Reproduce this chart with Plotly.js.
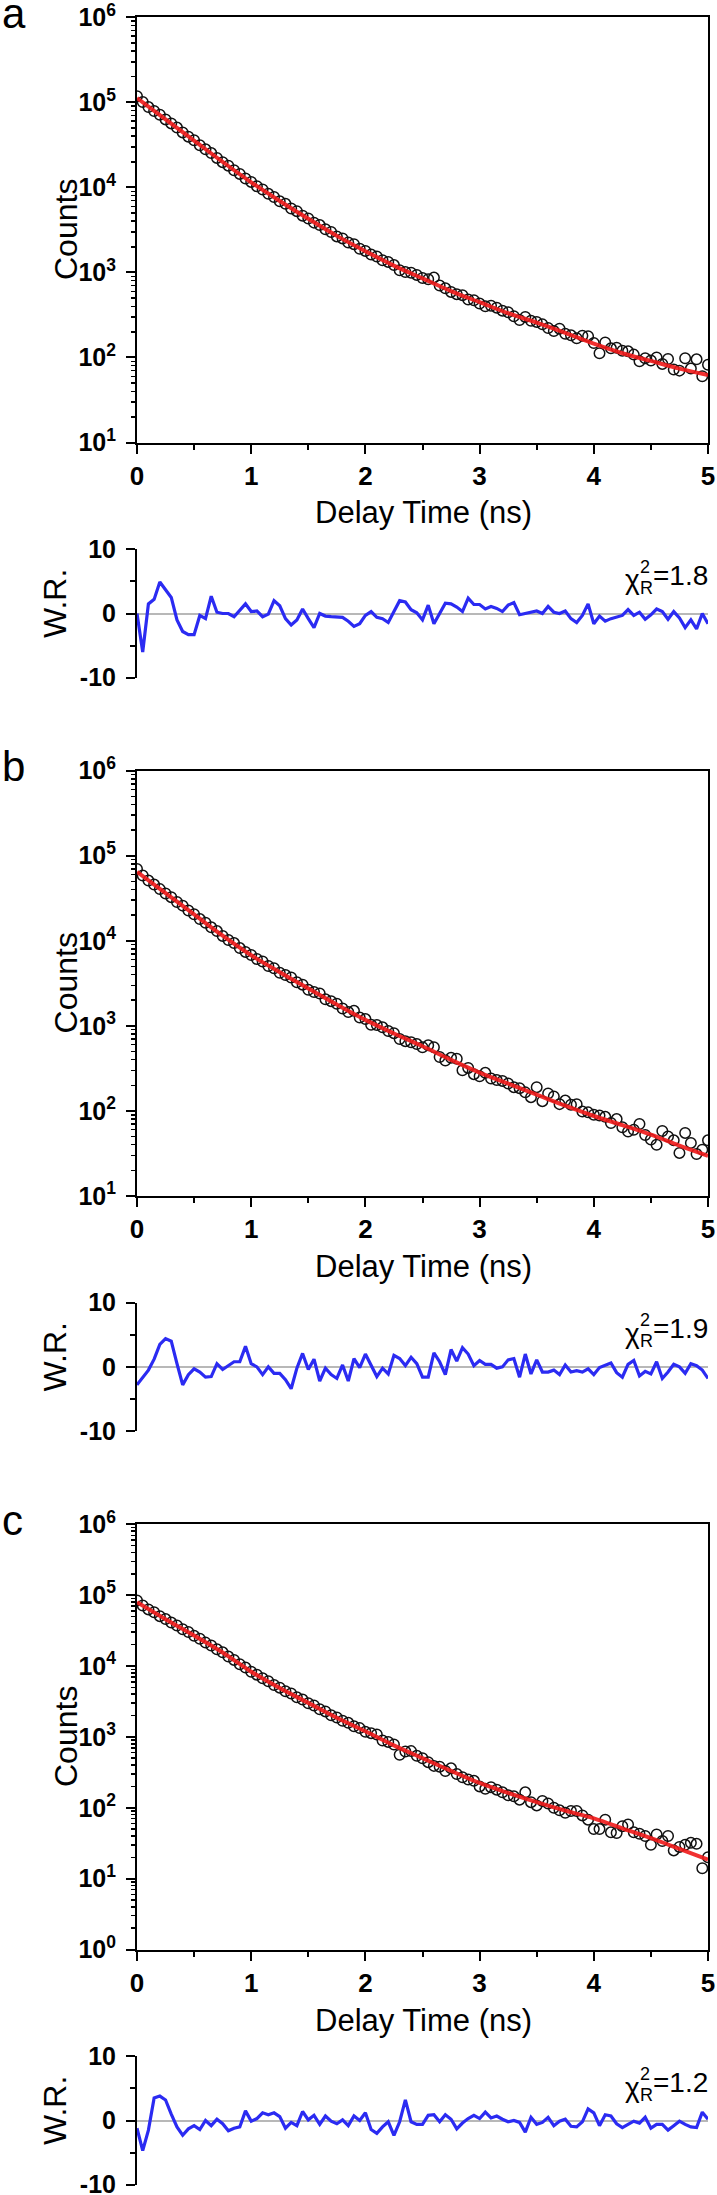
<!DOCTYPE html>
<html><head><meta charset="utf-8">
<script src="https://cdn.plot.ly/plotly-3.0.1.min.js"></script>
<style>html,body{margin:0;padding:0;background:#fff}#chart{width:717px;height:2195px}</style>
</head><body><div id="chart"></div>
<script>
// ---- data ----
const timeNs = [0,0.05,0.1,0.15,0.2,0.25,0.3,0.35,0.4,0.45,0.5,0.55,0.6,0.65,0.7,0.75,0.8,0.85,0.9,0.95,1,1.05,1.1,1.15,1.2,1.25,1.3,1.35,1.4,1.45,1.5,1.55,1.6,1.65,1.7,1.75,1.8,1.85,1.9,1.95,2,2.05,2.1,2.15,2.2,2.25,2.3,2.35,2.4,2.45,2.5,2.55,2.6,2.65,2.7,2.75,2.8,2.85,2.9,2.95,3,3.05,3.1,3.15,3.2,3.25,3.3,3.35,3.4,3.45,3.5,3.55,3.6,3.65,3.7,3.75,3.8,3.85,3.9,3.95,4,4.05,4.1,4.15,4.2,4.25,4.3,4.35,4.4,4.45,4.5,4.55,4.6,4.65,4.7,4.75,4.8,4.85,4.9,4.95,5];
const fitTimeNs = [0,0.25,0.5,0.75,1,1.25,1.5,1.75,2,2.25,2.5,2.75,3,3.25,3.5,3.75,4,4.25,4.5,4.75,5];

const countsA = [118000,101000,88000,79000,71500,63000,56500,50500,44300,39500,35800,31300,28000,25300,22200,19800,18000,15900,14400,12700,11600,10300,9450,8400,7700,6850,6400,5650,5250,4650,4300,3850,3600,3220,2990,2650,2510,2250,2150,1900,1790,1620,1540,1390,1330,1220,1060,1010,990,935,860,830,870,700,650,590,555,540,480,470,430,400,405,385,355,340,305,275,300,270,262,245,222,205,218,190,182,168,180,178,148,112,150,128,130,120,118,108,90,98,92,100,84,96,72,70,98,74,95,60,82];
const fitA = [112200,63100,35500,19950,11480,6920,4270,2690,1778,1202,851,603,447,331,257,195,145,112,91,74,62];
const residA = [0,-6,1.5,2.2,4.9,3.6,2.5,-1.0,-2.8,-3.3,-3.3,-0.3,-0.8,2.7,0.2,0,0,-0.5,0.5,1.5,0.3,0.4,-0.5,-0.1,2.0,1.2,-0.8,-1.8,-1.0,0.7,-0.8,-2.2,0,-0.4,-0.5,-0.6,-0.6,-1.2,-2.0,-1.6,-0.3,0.3,-0.6,-0.8,-1.4,0.3,2.0,1.8,0.6,0.1,-1.0,1.3,-1.6,0,1.6,1.5,1.0,0.3,2.4,1.4,1.4,0.7,1.1,0.8,0.3,1.3,1.7,-0.2,0,0.3,0.4,0,1.1,0.2,0,0.4,-0.8,-1.4,-0.3,1.5,-1.6,-0.4,-1.2,-0.8,-0.6,-0.3,0.6,-0.3,0.2,-0.9,-0.2,0.7,0.3,-0.9,0.3,-0.7,-2.2,-1.0,-2.4,0,-1.6];

const countsB = [70000,58500,51000,45800,40500,36000,32600,28600,25900,22700,20500,18000,16300,14400,13000,11400,10200,9400,8200,7400,6800,6100,5700,5050,4750,4200,3950,3700,3250,3050,2650,2500,2400,2050,1950,1820,1600,1450,1500,1250,1200,1030,1020,960,870,820,700,660,640,610,560,590,560,430,390,420,410,300,320,270,255,280,240,230,225,210,190,185,165,145,190,130,160,148,120,132,118,120,98,96,90,88,85,72,80,64,57,60,70,52,46,40,58,50,45,32,55,42,31,35,45];
const fitB = [64600,36300,20400,11500,6760,4270,2750,1778,1175,813,575,398,282,209,155,115,87,68,52.5,38.9,29.5];
const residB = [-2.8,-1.6,-0.5,1.2,3.5,4.4,4.0,0.5,-2.8,-1.2,-0.3,-0.8,-1.6,-1.5,0.5,-0.4,0.2,0.8,0.8,3.2,0.5,0,-1.2,0,-1.0,-1.0,-2.0,-3.4,-0.2,2.1,-0.4,1.2,-2.2,-0.2,-1.2,-1.8,0.3,-2.2,1.3,-0.1,2.0,0.3,-1.5,-0.2,-1.1,1.8,1.3,0.2,1.5,0.5,-1.6,-1.6,2.2,0.8,-1.2,2.7,0.9,3.0,2.0,0.2,1.0,0.4,0.4,-0.2,0,1.1,1.3,-1.6,2.0,-1.1,1.1,-0.8,-0.8,-0.5,-1.2,0.3,-0.8,-0.6,-0.8,-0.3,-1.2,-0.1,0.2,0.6,-0.9,-1.6,0.4,1.0,-1.4,-0.7,-1.1,0.8,-1.8,-0.8,0.4,0,-1.0,0.5,0.2,-0.5,-1.8];

const countsC = [84000,71500,63000,57500,50500,46000,41000,37300,33000,30200,26700,24300,21400,19500,17200,15600,13600,12200,10600,9500,8300,7550,6700,6100,5400,4950,4400,4100,3620,3360,2980,2770,2460,2290,2020,1880,1690,1580,1410,1330,1180,1130,1080,890,850,780,560,620,630,540,500,440,390,380,330,360,300,270,250,240,200,185,195,180,165,150,145,130,165,120,108,125,115,100,92,85,90,90,78,68,50,50,68,45,44,55,58,45,43,40,30,42,34,40,25,28,30,32,31,14,20];
const fitC = [79400,45700,26900,15500,8320,4900,3020,1860,1200,759,501,331,224,162,120,91,70.8,51.3,37.2,26.3,18.6];
const residC = [-1.2,-4.7,-1.5,3.5,3.8,3.2,1.0,-1.0,-2.3,-1.3,-0.8,-1.4,0,-0.8,0.2,-0.5,-1.6,-1.2,-1.0,1.5,-0.1,0.3,1.2,0.9,1.2,0.6,-1.2,-0.3,-0.8,1.4,0.1,0.8,-0.6,0.7,-0.1,-0.5,0.1,-0.8,0.7,0,1.2,-1.4,-2.0,-1.0,-0.2,-2.3,-0.2,3.2,-0.2,-0.6,-0.6,0.8,0.9,-0.2,0.9,0.2,-1.3,-0.4,0.3,0.8,0.3,1.3,0.4,0.7,0.2,-0.2,0,-0.3,-1.8,0.5,-0.6,-0.3,0.5,-0.8,-0.1,0.2,-0.9,-1.0,-0.2,1.8,1.2,-0.8,0.9,0.7,-0.5,-1.1,-0.6,-0.1,-0.4,0.5,-1.2,-0.6,-0.6,-1.5,-0.8,-0.1,-0.6,-1.0,-1.1,1.3,0.2];

const panelLetters = ['a','b','c'];
const chiValues = ['1.8','1.9','1.2'];
const logRanges = [[1,6],[1,6],[0,6]];

// ---- layout ----
const W = 717, H = 2195;
const FAM = 'Liberation Sans, Arial, Helvetica, sans-serif';
const fy = px => 1 - px / H;
const fx = px => px / W;
const X0 = 137, X1 = 708;
const offsets = [0, 753.4, 1507];
const series = [
  {counts: countsA, fit: fitA, resid: residA},
  {counts: countsB, fit: fitB, resid: residB},
  {counts: countsC, fit: fitC, resid: residC}
];

const traces = [];
const layout = {
  width: W, height: H,
  margin: {l: 0, r: 0, t: 0, b: 0},
  paper_bgcolor: '#fff', plot_bgcolor: 'rgba(0,0,0,0)',
  showlegend: false,
  font: {family: FAM, color: '#000'},
  annotations: []
};

function sup(n){ return '10<sup>' + n + '</sup>'; }
const XTICKFONT = {family: FAM, size: 26, weight: 'bold', color: '#000'};
const YTICKFONT = {family: FAM, size: 25, weight: 'bold', color: '#000'};

series.forEach((s, p) => {
  const off = offsets[p];
  const mi = 2 * p + 1, ri = 2 * p + 2;
  const mx = 'x' + (mi === 1 ? '' : mi), my = 'y' + (mi === 1 ? '' : mi);
  const rx = 'x' + ri, ry = 'y' + ri;
  const xName = 'xaxis' + (mi === 1 ? '' : mi), yName = 'yaxis' + (mi === 1 ? '' : mi);

  traces.push({type: 'scatter', mode: 'markers', x: timeNs, y: s.counts, xaxis: mx, yaxis: my,
    marker: {symbol: 'circle-open', size: 10.5, color: '#111', line: {width: 1.5}}});
  traces.push({type: 'scatter', mode: 'lines', x: fitTimeNs, y: s.fit, xaxis: mx, yaxis: my,
    line: {color: 'rgba(240,25,25,0.9)', width: 4, shape: 'spline'}});
  traces.push({type: 'scatter', mode: 'lines', x: timeNs, y: s.resid, xaxis: rx, yaxis: ry,
    line: {color: '#2b2bf2', width: 3.2}});

  const lr = logRanges[p];
  const majors = [], labels = [], minors = [];
  for (let d = lr[0]; d <= lr[1]; d++) {
    majors.push(Math.pow(10, d)); labels.push(sup(d));
    if (d < lr[1]) for (let k = 2; k <= 9; k++) minors.push(k * Math.pow(10, d));
  }

  layout[xName] = {
    domain: [fx(X0), fx(X1)], range: [0, 5], anchor: my,
    showline: true, linewidth: 2, linecolor: '#000', mirror: true,
    ticks: 'outside', ticklen: 9, tickwidth: 2, tickcolor: '#000', dtick: 1, tick0: 0,
    minor: {ticks: 'outside', ticklen: 5, tickwidth: 2, tickcolor: '#000', dtick: 0.5, tick0: 0, showgrid: false},
    showgrid: false, zeroline: false, ticklabeloverflow: 'allow',
    tickfont: XTICKFONT
  };
  layout[yName] = {
    type: 'log', domain: [fy(442.5 + off), fy(17.3 + off)], range: lr, anchor: mx,
    showline: true, linewidth: 2, linecolor: '#000', mirror: true,
    ticks: 'outside', ticklen: 9, tickwidth: 2, tickcolor: '#000',
    tickmode: 'array', tickvals: majors, ticktext: labels, ticklabelstandoff: 5,
    minor: {ticks: 'outside', ticklen: 4, tickwidth: 1.5, tickcolor: '#000', tickmode: 'array', tickvals: minors, showgrid: false},
    showgrid: false, zeroline: false, ticklabeloverflow: 'allow',
    tickfont: YTICKFONT
  };
  layout['xaxis' + ri] = {domain: [fx(X0), fx(X1)], range: [0, 5], anchor: ry, visible: false, showgrid: false, zeroline: false};
  layout['yaxis' + ri] = {
    domain: [fy(677.7 + off), fy(549.3 + off)], range: [-10, 10], anchor: rx,
    showline: true, linewidth: 2, linecolor: '#000',
    ticks: 'outside', ticklen: 9, tickwidth: 2, tickcolor: '#000',
    tickmode: 'array', tickvals: [-10, 0, 10], ticktext: ['-10', '0', '10'], ticklabelstandoff: 5,
    minor: {ticks: 'outside', ticklen: 5, tickwidth: 2, tickcolor: '#000', tickmode: 'array', tickvals: [-5, 5], showgrid: false},
    showgrid: false, zeroline: true, zerolinecolor: '#b8b8b8', zerolinewidth: 2,
    ticklabeloverflow: 'allow',
    tickfont: YTICKFONT
  };

  const A = layout.annotations;
  const ann = (o) => A.push(Object.assign({xref: 'paper', yref: 'paper', showarrow: false}, o));
  ann({text: panelLetters[p], x: fx(0), y: fy(39 + off), xanchor: 'left', yanchor: 'bottom', font: {family: FAM, size: 42, color: '#000'}});
  ann({text: 'Counts', x: fx(66), y: fy(230 + off), xanchor: 'center', yanchor: 'middle', textangle: -90, font: {family: FAM, size: 32, color: '#000'}});
  ann({text: 'Delay Time (ns)', x: fx(423), y: fy(513 + off), xanchor: 'center', yanchor: 'middle', font: {family: FAM, size: 31, color: '#000'}});
  ann({text: 'W.R.', x: fx(55), y: fy(604 + off), xanchor: 'center', yanchor: 'middle', textangle: -90, font: {family: FAM, size: 32, color: '#000'}});
  ann({text: 'χ', x: fx(632), y: fy(580 + off), xanchor: 'center', yanchor: 'middle', font: {family: FAM, size: 28, color: '#000'}});
  ann({text: '2', x: fx(645), y: fy(567 + off), xanchor: 'center', yanchor: 'middle', font: {family: FAM, size: 18, color: '#000'}});
  ann({text: 'R', x: fx(646), y: fy(588 + off), xanchor: 'center', yanchor: 'middle', font: {family: FAM, size: 18, color: '#000'}});
  ann({text: '=' + chiValues[p], x: fx(710), y: fy(575 + off), xanchor: 'right', yanchor: 'middle', font: {family: FAM, size: 28, color: '#000'}});
});

Plotly.newPlot('chart', traces, layout, {staticPlot: true, displayModeBar: false});
</script>
</body></html>
